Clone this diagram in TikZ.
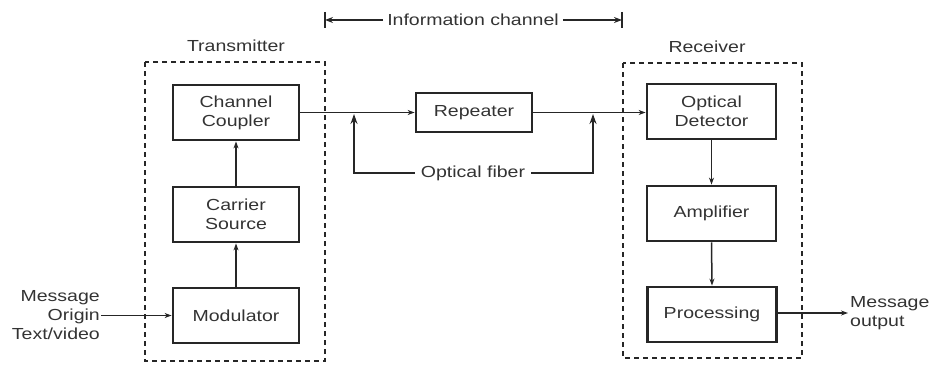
\documentclass[tikz,border=0pt]{standalone}
\usepackage{fontspec}
\setmainfont[FakeStretch=1.22]{Liberation Sans}
\usetikzlibrary{arrows.meta}
\tikzset{
  blk/.style={draw=black!85, line width=2.8pt, minimum width=126pt, minimum height=55pt, align=center, inner sep=0pt, font=\fontsize{16}{19}\selectfont, text=black!80},
  grp/.style={draw=black!85, line width=2.4pt, dash pattern=on 5pt off 4pt},
  lbl/.style={font=\fontsize{16}{19}\selectfont, text=black!80, inner sep=1pt},
  con/.style={draw=black!85, line width=1.5pt, -{Stealth[length=7pt,width=5pt]}},
  ln/.style={draw=black!85, line width=1.6pt}
}
\begin{document}
\begin{tikzpicture}[x=1pt,y=-1pt]
\useasboundingbox (0,0) rectangle (933,369);
% group frames
\draw[grp] (145,62) rectangle (325,361);
\draw[grp] (623,63) rectangle (802,358);
\node[lbl] (tx) at (236,46) {Transmitter};
\node[lbl] (rx) at (707,47) {Receiver};
% blocks
\node[blk] (cc) at (236,112.5) {Channel\\Coupler};
\node[blk] (cs) at (236,214.5) {Carrier\\Source};
\node[blk] (mod) at (236,315.5) {Modulator};
\node[blk, minimum width=116pt, minimum height=39pt] (rep) at (474,112.5) {Repeater};
\node[blk, minimum width=129pt] (od) at (711.5,111.5) {Optical\\Detector};
\node[blk, minimum width=129pt] (amp) at (711.5,213.5) {Amplifier};
\node[blk, minimum width=129pt] (proc) at (712,314.5) {Processing};
% main chain
\draw[con] (mod.north) -- (cs.south);
\draw[con] (cs.north) -- (cc.south);
\draw[con] (cc.east |- rep.west) -- (rep.west);
\draw[con] (rep.east) -- (od.west |- rep.east);
\draw[con] (od.south) -- (amp.north);
\draw[con] (amp.south) -- (proc.north);
% message in / out
\node[lbl, anchor=east, align=right] (min) at (101,315) {Message\\Origin\\Text/video};
\draw[con] (min.east |- mod.west) -- (mod.west);
\coordinate (mo) at (848,313);
\draw[con] (proc.east |- mo) -- (mo);
\node[lbl, anchor=west, align=left] (mout) at (849,313) {Message\\output};
% optical fiber
\node[lbl, inner xsep=6pt] (of) at (473,173) {Optical fiber};
\coordinate (f1) at (354,173);
\coordinate (f2) at (593,173);
\coordinate (f1t) at (354,114);
\coordinate (f2t) at (593,114);
\draw[ln, -{Stealth[length=10pt,width=7pt]}] (of.west) -- (f1) -- (f1t);
\draw[ln, -{Stealth[length=10pt,width=7pt]}] (of.east) -- (f2) -- (f2t);
% information channel
\node[lbl, inner xsep=4pt] (ic) at (473,20) {Information channel};
\coordinate (ic1) at (325,20);
\coordinate (ic2) at (622,20);
\draw[ln, -{Stealth[length=8pt,width=6pt]}] (ic.west) -- (ic1);
\draw[ln, -{Stealth[length=8pt,width=6pt]}] (ic.east) -- (ic2);
\draw[ln, line width=2pt] (325,12) -- (325,28);
\draw[ln, line width=2pt] (622,12) -- (622,28);
\end{tikzpicture}
\end{document}
